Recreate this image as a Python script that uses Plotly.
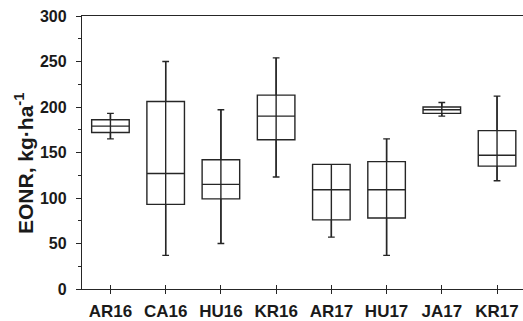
import plotly.graph_objects as go

sites = ["AR16", "CA16", "HU16", "KR16", "AR17", "HU17", "JA17", "KR17"]
lower = [165, 37, 50, 123, 57, 37, 190, 119]
q1 = [172, 93, 99, 164, 76, 78, 193, 135]
median = [179, 127, 115, 190, 109, 109, 197, 147]
q3 = [186, 206, 142, 213, 137, 140, 200, 174]
upper = [193, 250, 197, 254, 137, 165, 205, 212]

ytick_vals = [0, 50, 100, 150, 200, 250, 300]
ytitle = "EONR, kg·ha<sup>-1</sup>"

W, H = 523, 321
L, R, T, B = 82, 0, 16, 32
line_col = "#262626"
font_fam = "Liberation Sans, Arial, sans-serif"

fig = go.Figure()
fig.add_trace(go.Box(
    x=sites, q1=q1, median=median, q3=q3,
    lowerfence=lower, upperfence=upper,
    fillcolor="rgba(0,0,0,0)", width=0.68,
    line=dict(color=line_col, width=1.4),
    whiskerwidth=0.18, boxpoints=False, showlegend=False,
    hoverinfo="skip",
))

# vertical whisker line running through the box
xs, ys = [], []
for s, lo, hi in zip(sites, lower, upper):
    xs += [s, s, None]
    ys += [lo, hi, None]
fig.add_trace(go.Scatter(
    x=xs, y=ys, mode="lines", xaxis="x2", yaxis="y",
    line=dict(color=line_col, width=1.4), showlegend=False, hoverinfo="skip",
))

xr = [-0.515, 7.47]
fig.update_layout(
    width=W, height=H,
    margin=dict(l=L, r=R, t=T, b=B, pad=0),
    paper_bgcolor="white", plot_bgcolor="white",
    font=dict(family=font_fam, color="#1a1a1a"),
    xaxis=dict(
        type="category", categoryorder="array", categoryarray=sites,
        range=xr, showgrid=False, zeroline=False,
        showline=True, linecolor=line_col, linewidth=1.3, mirror=True,
        ticks="outside", ticklen=4, tickwidth=1, tickcolor=line_col,
        tickfont=dict(size=17, family=font_fam, weight="bold", color="#1a1a1a"),
        ticklabelstandoff=2,
    ),
    xaxis2=dict(
        type="category", categoryorder="array", categoryarray=sites,
        range=xr, overlaying="x", anchor="y", side="bottom",
        showgrid=False, zeroline=False, showline=False,
        ticks="inside", ticklen=4, tickwidth=1, tickcolor=line_col,
        showticklabels=False,
    ),
    yaxis=dict(
        range=[0, 300], tickvals=ytick_vals, showgrid=False, zeroline=False,
        showline=True, linecolor=line_col, linewidth=1.3,
        ticks="outside", ticklen=5, tickwidth=1, tickcolor=line_col,
        minor=dict(dtick=25, ticks="outside", ticklen=3, tickwidth=1, tickcolor=line_col, showgrid=False),
        tickfont=dict(size=16, family=font_fam, weight="bold", color="#1a1a1a"),
        ticklabelstandoff=6,
    ),
)

pw = W - L - R
ph = H - T - B
fig.add_annotation(
    text=ytitle, textangle=-90, showarrow=False,
    xref="paper", yref="paper",
    x=(24 - L) / pw, y=(H - B - 164) / ph,
    xanchor="center", yanchor="middle",
    font=dict(size=21, family=font_fam, weight="bold", color="#1a1a1a"),
)

fig.write_html("out.html")
